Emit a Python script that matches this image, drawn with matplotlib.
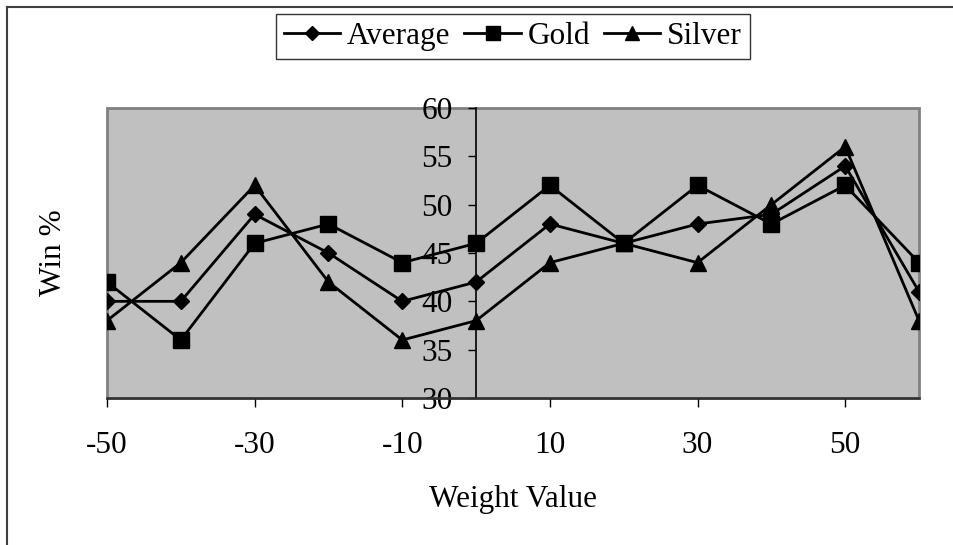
import numpy as np
import matplotlib
matplotlib.use('Agg')
import matplotlib.pyplot as plt
from matplotlib.patches import Rectangle
from matplotlib.lines import Line2D

plt.rcParams['font.family'] = ['Liberation Serif', 'DejaVu Serif']
plt.rcParams['axes.unicode_minus'] = False

weights = [-50, -40, -30, -20, -10, 0, 10, 20, 30, 40, 50, 60]
average = [40, 40, 49, 45, 40, 42, 48, 46, 48, 49, 54, 41]
gold = [42, 36, 46, 48, 44, 46, 52, 46, 52, 48, 52, 44]
silver = [38, 44, 52, 42, 36, 38, 44, 46, 44, 50, 56, 38]

xticks = [-50, -30, -10, 10, 30, 50]
yticks = [30, 35, 40, 45, 50, 55, 60]

fs = 22.5

fig = plt.figure(figsize=(9.54, 5.45), dpi=100)
ax = fig.add_axes([107 / 954, 1 - 398 / 545, 812 / 954, 290 / 545])
ax.set_facecolor('#c0c0c0')

ax.plot(weights, average, color='black', lw=2, marker='D', ms=8, label='Average', zorder=3)
ax.plot(weights, gold, color='black', lw=2, marker='s', ms=11, label='Gold', zorder=3)
ax.plot(weights, silver, color='black', lw=2, marker='^', ms=11, label='Silver', zorder=3)

ax.set_xlim(-50, 60)
ax.set_ylim(30, 60)
ax.set_xticks(xticks)
ax.set_yticks(yticks)

# y axis crosses at x = 0, frame drawn separately
ax.spines['left'].set_position(('data', 0))
ax.spines['left'].set_color('black')
ax.spines['left'].set_linewidth(1.2)
ax.spines['bottom'].set_color('#303030')
ax.spines['bottom'].set_linewidth(1.8)
ax.spines['top'].set_visible(False)
ax.spines['right'].set_visible(False)
ax.add_patch(Rectangle((0, 0), 1, 1, transform=ax.transAxes, fill=False,
                       edgecolor='#808080', lw=2, zorder=1.2, clip_on=False))

ax.tick_params(axis='x', direction='out', length=6.5, width=1, pad=17, labelsize=fs)
ax.tick_params(axis='y', direction='out', length=6, width=1, pad=11, labelsize=fs)

fig.text(54 / 954, 1 - 253 / 545, 'Win %', rotation=90, ha='center', va='center', fontsize=fs)
fig.text(513 / 954, 1 - 500 / 545, 'Weight Value', ha='center', va='center', fontsize=fs)

leg = fig.legend(loc='upper center', bbox_to_anchor=(513 / 954, 1 - 14 / 545), ncol=3,
                 frameon=True, fancybox=False, fontsize=fs, handlelength=1.8,
                 handletextpad=0.22, columnspacing=0.45, borderpad=0.25,
                 borderaxespad=0, markerscale=0.95)
leg.get_frame().set_edgecolor('black')
leg.get_frame().set_linewidth(1)

# chart border (top and left visible)
fig.add_artist(Line2D([7 / 954, 1], [1 - 7 / 545, 1 - 7 / 545], color='#404040', lw=1.5))
fig.add_artist(Line2D([7 / 954, 7 / 954], [0, 1 - 7 / 545], color='#404040', lw=1.5))

fig.savefig('out.png', dpi=100)
